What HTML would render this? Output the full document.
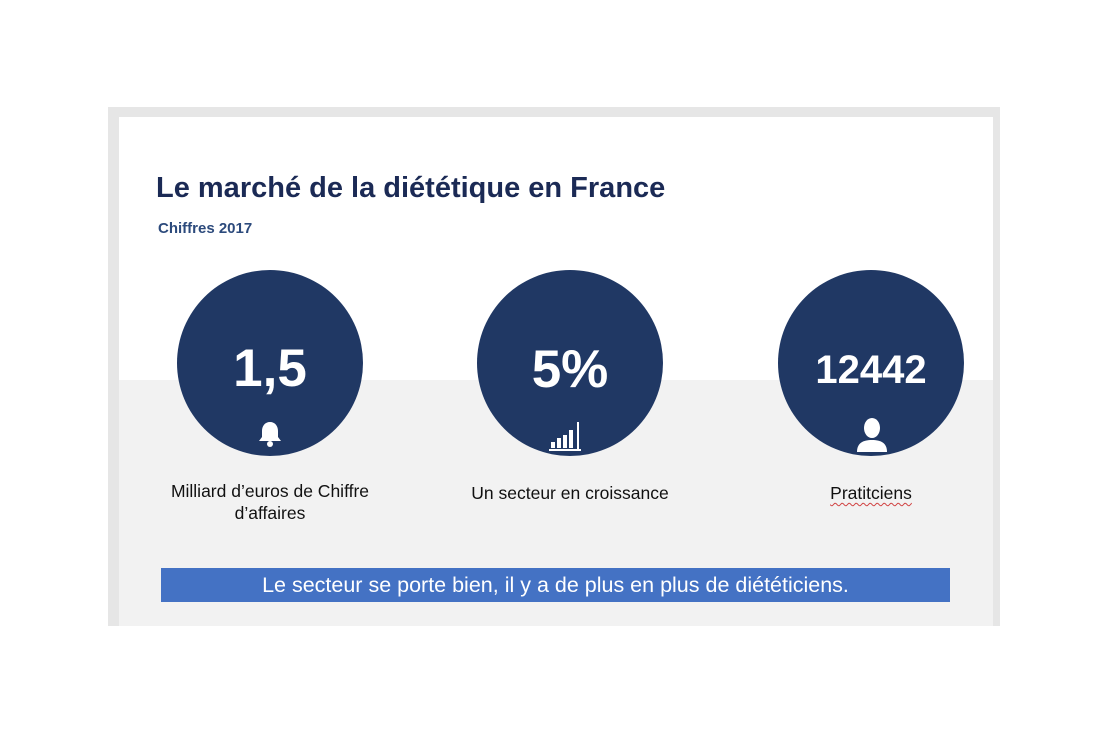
<!DOCTYPE html>
<html><head><meta charset="utf-8"><style>
body{margin:0;width:1097px;height:747px;background:#fff;position:relative;overflow:hidden;font-family:"Liberation Sans",sans-serif}
.a{position:absolute}
.c{position:absolute;width:186px;height:186px;border-radius:50%;background:#203864;top:270px}
.n{position:absolute;left:0;width:186px;text-align:center;color:#fff;font-weight:bold}
.l{position:absolute;width:300px;text-align:center;font-size:17.5px;color:#111;line-height:22px}
</style></head><body>
<div class="a" style="left:108px;top:107px;width:892px;height:519px;background:#e6e6e6"></div>
<div class="a" style="left:119px;top:117px;width:874px;height:263px;background:#fff"></div>
<div class="a" style="left:119px;top:380px;width:874px;height:246px;background:#f2f2f2"></div>
<div class="a" style="left:156px;top:172px;font-size:29px;font-weight:bold;color:#1b2a55">Le marché de la diététique en France</div>
<div class="a" style="left:158px;top:220px;font-size:15px;font-weight:bold;color:#2c4a7c">Chiffres 2017</div>
<div class="c" style="left:177px"><div class="n" style="top:68px;font-size:53px">1,5</div>
<svg class="a" style="left:80px;top:150px" width="26" height="28" viewBox="0 0 26 28"><path d="M13 2c-5 0-8 4-8 9v6l-3 4h22l-3-4v-6c0-5-3-9-8-9z" fill="#fff"/><circle cx="13" cy="24" r="3" fill="#fff"/></svg></div>
<div class="c" style="left:477px"><div class="n" style="top:69px;font-size:53px">5%</div>
<svg class="a" style="left:72px;top:150px" width="42" height="32"><g fill="#fff"><rect x="2" y="22" width="4" height="6"/><rect x="8" y="18" width="4" height="10"/><rect x="14" y="15" width="4" height="13"/><rect x="20" y="10" width="4" height="18"/><rect x="28" y="2" width="2" height="28"/><rect x="0" y="29" width="32" height="2"/></g></svg></div>
<div class="c" style="left:778px"><div class="n" style="top:78px;font-size:40px">12442</div>
<svg class="a" style="left:77px;top:146px" width="34" height="38"><g fill="#fff"><ellipse cx="17" cy="12" rx="8" ry="10"/><path d="M2 36c0-9 6-12 15-12s15 3 15 12z"/></g></svg></div>
<div class="l" style="left:120px;top:480px">Milliard d’euros de Chiffre<br>d’affaires</div>
<div class="l" style="left:420px;top:482px">Un secteur en croissance</div>
<div class="l" style="left:721px;top:482px;text-decoration:underline wavy #d04040;text-underline-offset:3px;text-decoration-thickness:1px">Pratitciens</div>
<div class="a" style="left:161px;top:568px;width:789px;height:34px;background:#4472c4;color:#fff;font-size:21.5px;text-align:center;line-height:34px">Le secteur se porte bien, il y a de plus en plus de diététiciens.</div>
</body></html>
